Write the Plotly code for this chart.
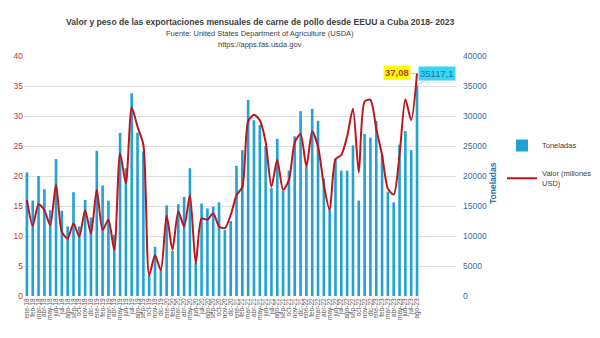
import plotly.graph_objects as go

meses = ["ene", "feb", "mar", "abr", "may", "jun", "jul", "ago", "sep", "oct", "nov", "dic"]
anios = ["18", "19", "20", "21", "22", "23"]
categorias = [f"{m}-{a}" for a in anios for m in meses][:68]  # ene-18 .. ago-23

toneladas = [
    20600, 15900, 20000, 17800, 14300, 22800, 14200, 11600, 17300, 11600, 16000, 13100,
    24200, 18400, 15900, 10200, 27200, 21300, 33800, 27200, 24100, 3500, 8200, 4300,
    15100, 7500, 15300, 16500, 21300, 5500, 15400, 14600, 14900, 15600, 11000, 12500,
    21700, 24300, 32700, 29300, 28500, 25000, 18000, 26200, 17500, 20900, 26600, 30800,
    21600, 31200, 29200, 19600, 14300, 22900, 20900, 20900, 25100, 15900, 27000, 26400,
    29200, 23500, 17400, 15600, 25200, 27500, 24300, 35117.1,
]

valor = [
    16.0, 11.7, 15.3, 14.3, 11.8, 18.6, 10.7, 9.6, 12.1, 9.9, 14.3, 10.4,
    17.7, 11.0, 12.7, 7.7, 23.8, 18.8, 31.4, 28.2, 25.2, 3.5, 6.8, 4.3,
    13.4, 7.7, 14.1, 11.6, 16.8, 5.4, 12.9, 12.7, 13.8, 11.6, 11.3, 13.5,
    16.8, 18.2, 29.1, 30.2, 29.3, 25.7, 18.2, 22.7, 17.7, 19.3, 25.6, 27.0,
    21.6, 27.4, 24.9, 18.5, 14.3, 22.8, 23.5, 26.6, 31.2, 20.6, 32.4, 32.7,
    27.9, 23.5, 17.9, 16.9, 23.5, 32.8, 29.3, 37.08,
]

valor_ticks = list(range(0, 41, 5))
ton_ticks = list(range(0, 40001, 5000))

RED = "#c0141c"
RED_TXT = "#c0392b"
BLUE = "#22a2d3"
BLUE_TXT = "#2a6fa8"
FONT = "Liberation Sans"

fig = go.Figure()
fig.add_trace(go.Bar(
    x=categorias, y=toneladas, name="Toneladas", yaxis="y", legendgroup="t",
    marker=dict(color=BLUE, line=dict(width=0)),
))
fig.add_trace(go.Scatter(
    x=categorias, y=valor, name="Valor (millones<br>USD)", yaxis="y2", legendgroup="v",
    mode="lines", line=dict(color=RED, width=2, shape="spline", smoothing=0.7),
))

fig.update_layout(
    width=600, height=338,
    margin=dict(l=24, r=144, t=56, b=42, autoexpand=False),
    paper_bgcolor="white", plot_bgcolor="white",
    font=dict(family=FONT, size=8, color="#595959"),
    bargap=0.55,
    showlegend=True,
    legend=dict(xref="container", yref="container", x=502 / 600, y=1 - 131 / 338,
                xanchor="left", yanchor="top",
                font=dict(size=7.5, color="#404040", family=FONT), tracegroupgap=12,
                bgcolor="rgba(0,0,0,0)"),
    xaxis=dict(type="category", tickmode="array", tickvals=categorias, ticktext=categorias,
               tickangle=-90, tickfont=dict(size=6.5, color="#595959"),
               showgrid=False, showline=False, ticks="", automargin=False),
    yaxis=dict(side="right", range=[0, 40000], tickvals=ton_ticks,
               ticktext=[str(v) for v in ton_ticks],
               tickfont=dict(size=8.5, color=BLUE_TXT), showgrid=True,
               gridcolor="#dedede", gridwidth=1, zeroline=False, showline=False,
               ticks="", ticklabelstandoff=6, automargin=False),
    yaxis2=dict(side="left", overlaying="y", range=[0, 40], tickvals=valor_ticks,
                tickfont=dict(size=8.5, color=RED_TXT), showgrid=False,
                zeroline=False, showline=False, ticks="", automargin=False),
)

# Title and source lines
fig.add_annotation(x=(260 - 24) / 432, y=(296 - 15) / 240, xref="paper", yref="paper",
                   text="<b>Valor y peso de las exportaciones mensuales de carne de pollo desde EEUU a Cuba 2018- 2023</b>",
                   showarrow=False, font=dict(size=8.6, color="#404040", family=FONT))
fig.add_annotation(x=(260 - 24) / 432, y=(296 - 27) / 240, xref="paper", yref="paper",
                   text="Fuente: United States Department of Agriculture (USDA)",
                   showarrow=False, font=dict(size=7.5, color="#404040", family=FONT))
fig.add_annotation(x=(260 - 24) / 432, y=(296 - 38) / 240, xref="paper", yref="paper",
                   text="https://apps.fas.usda.gov",
                   showarrow=False, font=dict(size=7.5, color="#404040", family=FONT))

# Right axis title
fig.add_annotation(x=(500 - 24) / 432, y=(296 - 183) / 240, xref="paper", yref="paper",
                   text="<b>Toneladas</b>", textangle=-90, showarrow=False,
                   font=dict(size=8.5, color=BLUE_TXT, family=FONT))

# Data labels for last point
fig.add_annotation(x=categorias[-1], y=valor[-1], xref="x", yref="y2",
                   text="<b>37,08</b>", showarrow=True, arrowhead=0, arrowwidth=0.6,
                   arrowcolor="#a0a0a0", ax=-20, ay=-1, bgcolor="#ffff00",
                   font=dict(size=9.5, color=RED_TXT, family=FONT), borderpad=1)
fig.add_annotation(x=categorias[-1], y=toneladas[-1], xref="x", yref="y",
                   text="35117,1", showarrow=True, arrowhead=0, arrowwidth=0.6,
                   arrowcolor="#a0a0a0", ax=20, ay=-12, bgcolor="#33d6f5",
                   font=dict(size=9.5, color=BLUE_TXT, family=FONT), borderpad=1)

fig.write_html("out.html")
